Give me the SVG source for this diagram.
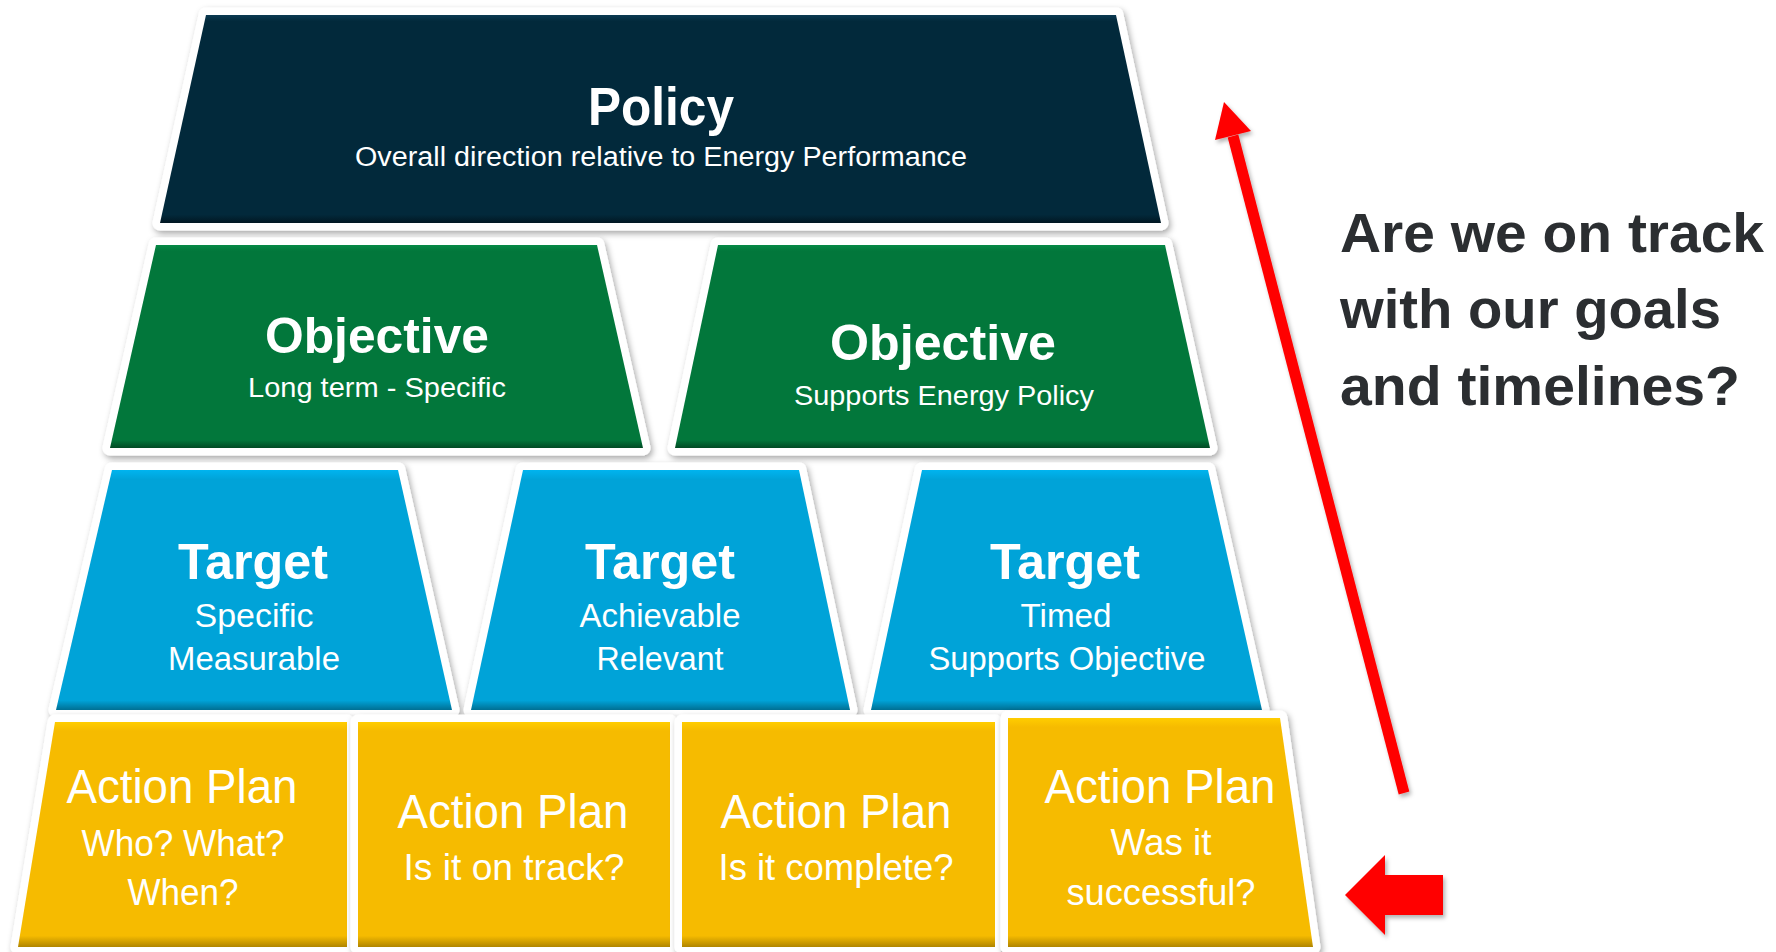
<svg xmlns="http://www.w3.org/2000/svg" width="1776" height="952" viewBox="0 0 1776 952">
<defs>
<filter id="sh" x="-10%" y="-10%" width="120%" height="125%">
<feDropShadow dx="2" dy="3" stdDeviation="3" flood-color="#000" flood-opacity="0.35"/>
</filter>
<filter id="ash" x="-20%" y="-20%" width="140%" height="140%">
<feDropShadow dx="2" dy="3" stdDeviation="2" flood-color="#000" flood-opacity="0.3"/>
</filter>
<linearGradient id="gNavy" x1="0" y1="0" x2="0" y2="1">
<stop offset="0" stop-color="#0b3a52"/><stop offset="0.03" stop-color="#02293b"/><stop offset="0.96" stop-color="#02293b"/><stop offset="1" stop-color="#011722"/>
</linearGradient>
<linearGradient id="gGreen" x1="0" y1="0" x2="0" y2="1">
<stop offset="0" stop-color="#058a46"/><stop offset="0.03" stop-color="#02773b"/><stop offset="0.96" stop-color="#02773b"/><stop offset="1" stop-color="#014a24"/>
</linearGradient>
<linearGradient id="gBlue" x1="0" y1="0" x2="0" y2="1">
<stop offset="0" stop-color="#00b4ef"/><stop offset="0.04" stop-color="#00a3d8"/><stop offset="0.96" stop-color="#00a3d8"/><stop offset="1" stop-color="#006f93"/>
</linearGradient>
<linearGradient id="gYellow" x1="0" y1="0" x2="0" y2="1">
<stop offset="0" stop-color="#ffcd00"/><stop offset="0.04" stop-color="#f6bb00"/><stop offset="0.95" stop-color="#f6bb00"/><stop offset="1" stop-color="#b08500"/>
</linearGradient>
<style>
.bd{fill:#fff;stroke:#fff;stroke-width:15;stroke-linejoin:round;filter:url(#sh)}
.navy{fill:url(#gNavy)}
.green{fill:url(#gGreen)}
.blue{fill:url(#gBlue)}
.yellow{fill:url(#gYellow)}
text{font-family:"Liberation Sans",Arial,sans-serif;fill:#fff;text-anchor:middle}
.t{font-weight:bold}
.q{font-family:"Liberation Sans",Arial,sans-serif;font-weight:bold;fill:#2b2e31;text-anchor:start;font-size:56px}
</style>
</defs>
<rect width="1776" height="952" fill="#fff"/>

<g id="policy">
<polygon class="bd" points="206,15 1116,15 1161,223 160,223"/>
<polygon class="navy" points="206,15 1116,15 1161,223 160,223"/>
<text class="t" x="661" y="125" font-size="54" textLength="146" lengthAdjust="spacingAndGlyphs">Policy</text>
<text x="661" y="166" font-size="27" textLength="612" lengthAdjust="spacingAndGlyphs">Overall direction relative to Energy Performance</text>
</g>

<g id="objective1">
<polygon class="bd" points="156,245 597,245 643,448 110,448"/>
<polygon class="green" points="156,245 597,245 643,448 110,448"/>
<text class="t" x="377" y="353" font-size="50" textLength="224" lengthAdjust="spacingAndGlyphs">Objective</text>
<text x="377" y="397" font-size="28" textLength="258" lengthAdjust="spacingAndGlyphs">Long term - Specific</text>
</g>

<g id="objective2">
<polygon class="bd" points="718,245 1165,245 1210,448 675,448"/>
<polygon class="green" points="718,245 1165,245 1210,448 675,448"/>
<text class="t" x="943" y="360" font-size="50" textLength="226" lengthAdjust="spacingAndGlyphs">Objective</text>
<text x="944" y="405" font-size="28" textLength="300" lengthAdjust="spacingAndGlyphs">Supports Energy Policy</text>
</g>

<g id="target1">
<polygon class="bd" points="112,470 398,470 452,710 56,710"/>
<polygon class="blue" points="112,470 398,470 452,710 56,710"/>
<text class="t" x="253" y="579" font-size="50" textLength="150" lengthAdjust="spacingAndGlyphs">Target</text>
<text x="254" y="627" font-size="33" textLength="119" lengthAdjust="spacingAndGlyphs">Specific</text>
<text x="254" y="670" font-size="33" textLength="172" lengthAdjust="spacingAndGlyphs">Measurable</text>
</g>

<g id="target2">
<polygon class="bd" points="523,470 799,470 850,710 471,710"/>
<polygon class="blue" points="523,470 799,470 850,710 471,710"/>
<text class="t" x="660" y="579" font-size="50" textLength="150" lengthAdjust="spacingAndGlyphs">Target</text>
<text x="660" y="627" font-size="33" textLength="161" lengthAdjust="spacingAndGlyphs">Achievable</text>
<text x="660" y="670" font-size="33" textLength="127" lengthAdjust="spacingAndGlyphs">Relevant</text>
</g>

<g id="target3">
<polygon class="bd" points="922,470 1208,470 1262,710 871,710"/>
<polygon class="blue" points="922,470 1208,470 1262,710 871,710"/>
<text class="t" x="1065" y="579" font-size="50" textLength="150" lengthAdjust="spacingAndGlyphs">Target</text>
<text x="1066" y="627" font-size="33" textLength="91" lengthAdjust="spacingAndGlyphs">Timed</text>
<text x="1067" y="670" font-size="33" textLength="277" lengthAdjust="spacingAndGlyphs">Supports Objective</text>
</g>

<g id="action1">
<polygon class="bd" points="55,722 347,722 347,947 18,947"/>
<polygon class="yellow" points="55,722 347,722 347,947 18,947"/>
<text x="182" y="803" font-size="48" textLength="231" lengthAdjust="spacingAndGlyphs">Action Plan</text>
<text x="183" y="856" font-size="36" textLength="203" lengthAdjust="spacingAndGlyphs">Who? What?</text>
<text x="183" y="905" font-size="36" textLength="111" lengthAdjust="spacingAndGlyphs">When?</text>
</g>

<g id="action2">
<polygon class="bd" points="358,722 670,722 670,947 358,947"/>
<polygon class="yellow" points="358,722 670,722 670,947 358,947"/>
<text x="513" y="828" font-size="48" textLength="231" lengthAdjust="spacingAndGlyphs">Action Plan</text>
<text x="514" y="880" font-size="36" textLength="221" lengthAdjust="spacingAndGlyphs">Is it on track?</text>
</g>

<g id="action3">
<polygon class="bd" points="682,722 995,722 995,947 682,947"/>
<polygon class="yellow" points="682,722 995,722 995,947 682,947"/>
<text x="836" y="828" font-size="48" textLength="231" lengthAdjust="spacingAndGlyphs">Action Plan</text>
<text x="836" y="880" font-size="36" textLength="235" lengthAdjust="spacingAndGlyphs">Is it complete?</text>
</g>

<g id="action4">
<polygon class="bd" points="1008,718 1280,718 1313,947 1008,947"/>
<polygon class="yellow" points="1008,718 1280,718 1313,947 1008,947"/>
<text x="1160" y="803" font-size="48" textLength="231" lengthAdjust="spacingAndGlyphs">Action Plan</text>
<text x="1161" y="855" font-size="36" textLength="101" lengthAdjust="spacingAndGlyphs">Was it</text>
<text x="1161" y="905" font-size="36" textLength="189" lengthAdjust="spacingAndGlyphs">successful?</text>
</g>

<g id="question">
<text class="q" x="1340" y="252" textLength="424" lengthAdjust="spacingAndGlyphs">Are we on track</text>
<text class="q" x="1340" y="328" textLength="381" lengthAdjust="spacingAndGlyphs">with our goals</text>
<text class="q" x="1340" y="405" textLength="400" lengthAdjust="spacingAndGlyphs">and timelines?</text>
</g>

<g id="connectors" filter="url(#ash)">
<line x1="1404" y1="793" x2="1233" y2="136" stroke="#ff0000" stroke-width="11"/>
<polygon points="1224,102 1251,131 1215,140" fill="#ff0000"/>
<polygon points="1345,895 1385,855 1385,875 1443,875 1443,915 1385,915 1385,935" fill="#ff0000"/>
</g>
</svg>
